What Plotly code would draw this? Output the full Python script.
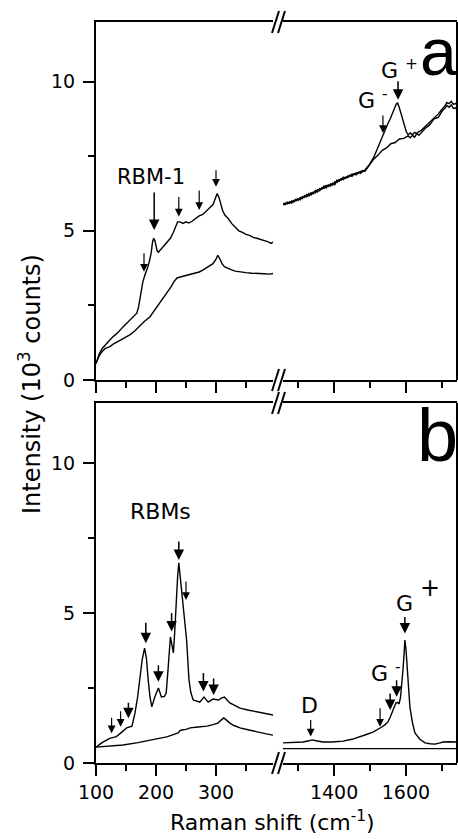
import plotly.graph_objects as go

# ---------------- spectra, panel a ----------------
a_rbm_top_x = [100, 105, 110, 117, 123, 130, 137, 145, 152, 160, 165, 168, 171, 174, 178, 182, 185, 189,
               192, 194, 196, 198, 200, 202, 204, 207, 212, 218, 224, 229, 233, 236, 240, 245, 250, 255,
               260, 266, 272, 278, 284, 290, 295, 299, 302, 305, 308, 311, 315, 320, 326, 332, 338, 344,
               350, 356, 362, 368, 374, 380, 386, 392, 395]
a_rbm_top_y = [0.55, 0.85, 1.05, 1.22, 1.34, 1.48, 1.6, 1.78, 1.92, 2.06, 2.15, 2.24, 2.45, 2.8, 3.28, 3.55,
               3.7, 3.98, 4.26, 4.6, 4.75, 4.68, 4.45, 4.32, 4.28, 4.35, 4.45, 4.59, 4.75, 4.95, 5.18, 5.3,
               5.3, 5.25, 5.3, 5.26, 5.32, 5.42, 5.5, 5.55, 5.65, 5.78, 5.88, 6.08, 6.25, 6.12, 5.88, 5.68,
               5.52, 5.42, 5.25, 5.12, 5.0, 4.95, 4.88, 4.85, 4.78, 4.75, 4.72, 4.68, 4.64, 4.58, 4.62]

a_rbm_bot_x = [100, 105, 110, 115, 123, 130, 140, 150, 157, 165, 172, 180, 190, 200, 210, 218, 225, 230,
               235, 242, 250, 257, 265, 272, 278, 285, 290, 295, 300, 303, 306, 310, 314, 318, 325, 332,
               340, 350, 360, 370, 380, 390, 395]
a_rbm_bot_y = [0.55, 0.8, 0.95, 1.05, 1.12, 1.22, 1.33, 1.43, 1.52, 1.65, 1.8, 1.95, 2.12, 2.4, 2.7, 2.92,
               3.12, 3.3, 3.42, 3.46, 3.5, 3.52, 3.58, 3.62, 3.68, 3.76, 3.82, 3.9, 4.05, 4.18, 4.08, 3.9,
               3.8, 3.76, 3.7, 3.65, 3.62, 3.6, 3.58, 3.58, 3.56, 3.55, 3.57]

a_g_bot_x = [1258, 1264, 1270, 1276, 1282, 1288, 1294, 1300, 1306, 1312, 1318, 1324, 1330, 1336, 1342,
             1348, 1354, 1360, 1366, 1372, 1378, 1384, 1390, 1396, 1402, 1408, 1414, 1420, 1426, 1432,
             1438, 1444, 1450, 1456, 1462, 1468, 1474, 1480, 1486, 1498, 1510, 1522, 1534, 1546, 1558,
             1570, 1582, 1594, 1606, 1612, 1618, 1624, 1630, 1636, 1642, 1654, 1666, 1678, 1690, 1702,
             1708, 1714, 1720, 1726, 1732, 1738, 1742]
a_g_bot_y = [5.87, 5.93, 5.9, 5.97, 5.93, 6.02, 6.0, 6.08, 6.04, 6.15, 6.12, 6.22, 6.17, 6.28, 6.24,
             6.35, 6.3, 6.42, 6.4, 6.5, 6.44, 6.54, 6.5, 6.6, 6.55, 6.7, 6.66, 6.76, 6.72, 6.8,
             6.78, 6.87, 6.83, 6.92, 6.88, 6.97, 6.93, 7.02, 7.0, 7.18, 7.4, 7.53, 7.7, 7.78, 7.92,
             7.96, 8.08, 8.1, 8.18, 8.12, 8.2, 8.14, 8.26, 8.2, 8.28, 8.44, 8.55, 8.75, 8.8, 9.04,
             9.1, 9.2, 9.14, 9.22, 9.1, 9.12, 9.05]

a_g_top_x = [1258, 1264, 1270, 1276, 1282, 1288, 1294, 1300, 1306, 1312, 1318, 1324, 1330, 1336, 1342,
             1348, 1354, 1360, 1366, 1372, 1378, 1384, 1390, 1396, 1402, 1408, 1414, 1420, 1426, 1432,
             1438, 1444, 1450, 1456, 1462, 1468, 1474, 1480, 1486, 1498, 1510, 1520, 1530, 1540, 1548,
             1556, 1562, 1568, 1573, 1577, 1581, 1586, 1591, 1596, 1601, 1606, 1612, 1618, 1624, 1630,
             1636, 1642, 1654, 1666, 1678, 1690, 1702, 1708, 1714, 1720, 1726, 1732, 1738, 1742]
a_g_top_y = [5.92, 5.88, 5.96, 5.92, 6.0, 5.96, 6.06, 6.02, 6.12, 6.08, 6.18, 6.14, 6.25, 6.2, 6.3,
             6.27, 6.38, 6.34, 6.45, 6.42, 6.52, 6.48, 6.57, 6.53, 6.64, 6.62, 6.72, 6.7, 6.8, 6.76,
             6.84, 6.82, 6.9, 6.88, 6.95, 6.93, 7.0, 6.98, 7.04, 7.22, 7.45, 7.75, 8.0, 8.3, 8.55,
             8.75, 8.9, 9.1, 9.25, 9.28, 9.15, 8.95, 8.75, 8.5, 8.32, 8.22, 8.28, 8.22, 8.3, 8.26,
             8.33, 8.36, 8.5, 8.63, 8.8, 8.92, 9.1, 9.18, 9.3, 9.26, 9.34, 9.24, 9.27, 9.22]

# ---------------- spectra, panel b ----------------
b_rbm_top_x = [100, 110, 123, 134, 143, 151, 160, 165, 169, 173, 177, 181, 184, 187, 190, 193, 198, 204,
               209, 214, 217, 220, 222, 224, 226, 229, 231, 233, 236, 238, 240, 243, 247, 251, 255, 258,
               262, 268, 273, 280, 287, 295, 304, 309, 314, 323, 340, 355, 368, 382, 395]
b_rbm_top_y = [0.53, 0.68, 0.82, 0.88, 1.03, 1.17, 1.23, 1.67, 2.15, 2.77, 3.45, 3.83, 3.5, 2.77, 2.2,
               1.87, 2.2, 2.5, 2.2, 2.22, 2.33, 3.1, 3.87, 4.2, 4.0, 3.67, 4.3, 5.2, 6.2, 6.67, 6.3, 5.67,
               5.0, 4.1, 2.77, 2.35, 2.1, 2.05, 2.03, 2.2, 2.03, 2.13, 2.1, 2.16, 2.2, 2.0, 1.83, 1.76,
               1.7, 1.65, 1.6]

b_rbm_bot_x = [100, 120, 145, 170, 190, 205, 218, 228, 237, 240, 243, 250, 257, 270, 285, 295, 303, 308,
               313, 318, 323, 330, 340, 355, 368, 382, 395]
b_rbm_bot_y = [0.53, 0.56, 0.6, 0.68, 0.77, 0.82, 0.87, 0.93, 1.0, 1.08, 1.1, 1.12, 1.17, 1.2, 1.23, 1.28,
               1.33, 1.42, 1.5, 1.42, 1.33, 1.25, 1.17, 1.1, 1.03, 0.98, 0.93]

b_g_top_x = [1258, 1280, 1300, 1314, 1330, 1339, 1350, 1369, 1395, 1425, 1450, 1472, 1490, 1508, 1522,
             1533, 1542, 1550, 1557, 1564, 1572, 1577, 1581, 1585, 1589, 1592, 1595, 1597, 1600, 1603,
             1607, 1611, 1618, 1625, 1638, 1653, 1667, 1681, 1695, 1703, 1720, 1742]
b_g_top_y = [0.67, 0.68, 0.7, 0.7, 0.74, 0.77, 0.74, 0.7, 0.7, 0.73, 0.79, 0.87, 0.95, 1.03, 1.12, 1.2,
             1.28, 1.37, 1.55, 1.77, 2.0, 2.02, 1.97, 2.2, 2.67, 3.15, 3.67, 4.1, 3.8, 3.2, 2.5, 1.87,
             1.35, 1.0, 0.8, 0.67, 0.64, 0.63, 0.67, 0.7, 0.71, 0.7]

b_g_bot_x = [1258, 1300, 1350, 1400, 1450, 1500, 1550, 1600, 1650, 1700, 1742]
b_g_bot_y = [0.48, 0.49, 0.48, 0.48, 0.49, 0.48, 0.48, 0.49, 0.48, 0.48, 0.48]

# ---------------- axes ----------------
rbm_range = [100, 395]
g_range = [1258, 1742]
y_range = [0, 12]
rbm_ticks = [100, 200, 300]
rbm_minor = [150, 250, 350]
g_ticks = [1400, 1600]
g_minor = [1300, 1500, 1700]
y_ticks = [0, 5, 10]

# arrow markers: (x, tip y, length in px, big head)
arrows_a_rbm = [(180, 3.63, 20, False), (197, 5.03, 39, True), (238, 5.48, 21, False),
                (272, 5.7, 21, False), (300, 6.48, 18, False)]
arrows_a_g = [(1536, 8.28, 19, False), (1578, 9.39, 20, True)]
arrows_b_rbm = [(126, 0.99, 17, False), (141, 1.21, 17, False), (154, 1.49, 17, True),
                (183, 3.99, 22, True), (204, 2.71, 18, True), (226, 4.38, 20, True),
                (238, 6.77, 20, True), (250, 5.43, 20, False), (279, 2.38, 20, True),
                (296, 2.27, 18, True)]
arrows_b_g = [(1335, 0.88, 18, False), (1528, 1.21, 20, False), (1556, 1.77, 18, True),
              (1574, 2.21, 18, True), (1597, 4.32, 18, True)]

# ---------------- figure geometry ----------------
W, H = 458, 839
ML, MR, MT, MB = 96, 1, 22, 76
PW, PH = W - ML - MR, H - MT - MB


def px(xp):
    return (xp - ML) / PW


def py(yp):
    return (H - MB - yp) / PH


left_dom = [0, px(273)]
right_dom = [px(283), 1]
a_dom = [py(380), 1]
b_dom = [0, py(403)]

FONT = "DejaVu Sans"
line = dict(color="black", width=1.4)

fig = go.Figure()
for xs, ys, xa, ya in [
    (a_rbm_top_x, a_rbm_top_y, "x", "y"),
    (a_rbm_bot_x, a_rbm_bot_y, "x", "y"),
    (a_g_top_x, a_g_top_y, "x2", "y"),
    (a_g_bot_x, a_g_bot_y, "x2", "y"),
    (b_rbm_top_x, b_rbm_top_y, "x3", "y2"),
    (b_rbm_bot_x, b_rbm_bot_y, "x3", "y2"),
    (b_g_top_x, b_g_top_y, "x4", "y2"),
    (b_g_bot_x, b_g_bot_y, "x4", "y2"),
]:
    fig.add_trace(go.Scatter(x=xs, y=ys, mode="lines", line=line, xaxis=xa, yaxis=ya,
                             hoverinfo="skip"))


def xaxis(dom, rng, ticks, minor, anchor, labels):
    return dict(domain=dom, range=rng, anchor=anchor, tickmode="array", tickvals=ticks,
                ticks="outside", ticklen=11, tickwidth=2, tickcolor="black",
                showticklabels=labels, tickfont=dict(family=FONT, size=19, color="black"),
                minor=dict(tickmode="array", tickvals=minor, ticks="outside", ticklen=6,
                           tickwidth=2, tickcolor="black"),
                showline=True, linewidth=2, linecolor="black", mirror=True,
                showgrid=False, zeroline=False, fixedrange=True)


def yaxis(dom, anchor):
    return dict(domain=dom, range=y_range, anchor=anchor, tickmode="array", tickvals=y_ticks,
                ticks="outside", ticklen=11, tickwidth=2, tickcolor="black",
                tickfont=dict(family=FONT, size=19, color="black"), ticklabelstandoff=4,
                minor=dict(dtick=2.5, tick0=0, ticks="outside", ticklen=6, tickwidth=2,
                           tickcolor="black"),
                showline=True, linewidth=2, linecolor="black",
                showgrid=False, zeroline=False, fixedrange=True)


fig.update_layout(
    width=W, height=H, margin=dict(l=ML, r=MR, t=MT, b=MB, autoexpand=False),
    paper_bgcolor="white", plot_bgcolor="white", showlegend=False,
    xaxis=xaxis(left_dom, rbm_range, rbm_ticks, rbm_minor, "y", False),
    xaxis2=xaxis(right_dom, g_range, g_ticks, g_minor, "y", False),
    xaxis3=xaxis(left_dom, rbm_range, rbm_ticks, rbm_minor, "y2", True),
    xaxis4=xaxis(right_dom, g_range, g_ticks, g_minor, "y2", True),
    yaxis=yaxis(a_dom, "x"),
    yaxis2=yaxis(b_dom, "x3"),
)

ann = []


def add_arrows(items, xref, yref):
    for x, y, length, big in items:
        ann.append(dict(x=x, y=y, xref=xref, yref=yref, text="", showarrow=True,
                        ax=0, ay=-length, arrowhead=2, arrowcolor="black",
                        arrowwidth=1.5 if big else 1.2, arrowsize=1.4 if big else 1.3))


add_arrows(arrows_a_rbm, "x", "y")
add_arrows(arrows_a_g, "x2", "y")
add_arrows(arrows_b_rbm, "x3", "y2")
add_arrows(arrows_b_g, "x4", "y2")


def label(text, x, y, xref, yref, size=21, family=FONT, xanchor="center", yanchor="middle"):
    ann.append(dict(x=x, y=y, xref=xref, yref=yref, text=text, showarrow=False,
                    font=dict(family=family, size=size, color="black"),
                    xanchor=xanchor, yanchor=yanchor))


label("RBM-1", 192, 6.8, "x", "y")
label("G <sup>+</sup>", 1524, 9.9, "x2", "y", 22, xanchor="left", yanchor="bottom")
label("G <sup>-</sup>", 1461, 8.88, "x2", "y", 22, xanchor="left", yanchor="bottom")
label("a", 1691, 11.0, "x2", "y", 66, "Liberation Sans")

label("RBMs", 208, 8.37, "x3", "y2", 22)
label("D", 1333, 1.93, "x4", "y2", 22)
label("G <sup>-</sup>", 1497, 2.5, "x4", "y2", 22, xanchor="left", yanchor="bottom")
label("G", 1597, 5.33, "x4", "y2", 22)
label("+", 1667, 5.83, "x4", "y2", 24)
label("b", 1689, 10.93, "x4", "y2", 74, "Liberation Sans")

# axis titles
ann.append(dict(x=px(272), y=py(821), xref="paper", yref="paper", showarrow=False,
                text="Raman shift (cm<sup>-1</sup>)", font=dict(family=FONT, size=22, color="black"),
                xanchor="center", yanchor="middle"))
ann.append(dict(x=px(30), y=py(384), xref="paper", yref="paper", showarrow=False, textangle=-90,
                text="Intensity (10<sup>3</sup> counts)", font=dict(family=FONT, size=24, color="black"),
                xanchor="center", yanchor="middle"))
fig.update_layout(annotations=ann)

# axis-break marks and right-hand frame
shapes = []
for cy in (22, 380, 403, 763):
    for off in (-3, 3):
        shapes.append(dict(type="line", xref="paper", yref="paper",
                           x0=px(275 + off), y0=py(cy + 11), x1=px(282 + off), y1=py(cy - 11),
                           line=dict(color="black", width=2)))
for dom in (a_dom, b_dom):
    shapes.append(dict(type="line", xref="paper", yref="paper", x0=1, x1=1, y0=dom[0], y1=dom[1],
                       line=dict(color="black", width=2)))
fig.update_layout(shapes=shapes)

fig.write_html("out.html")
